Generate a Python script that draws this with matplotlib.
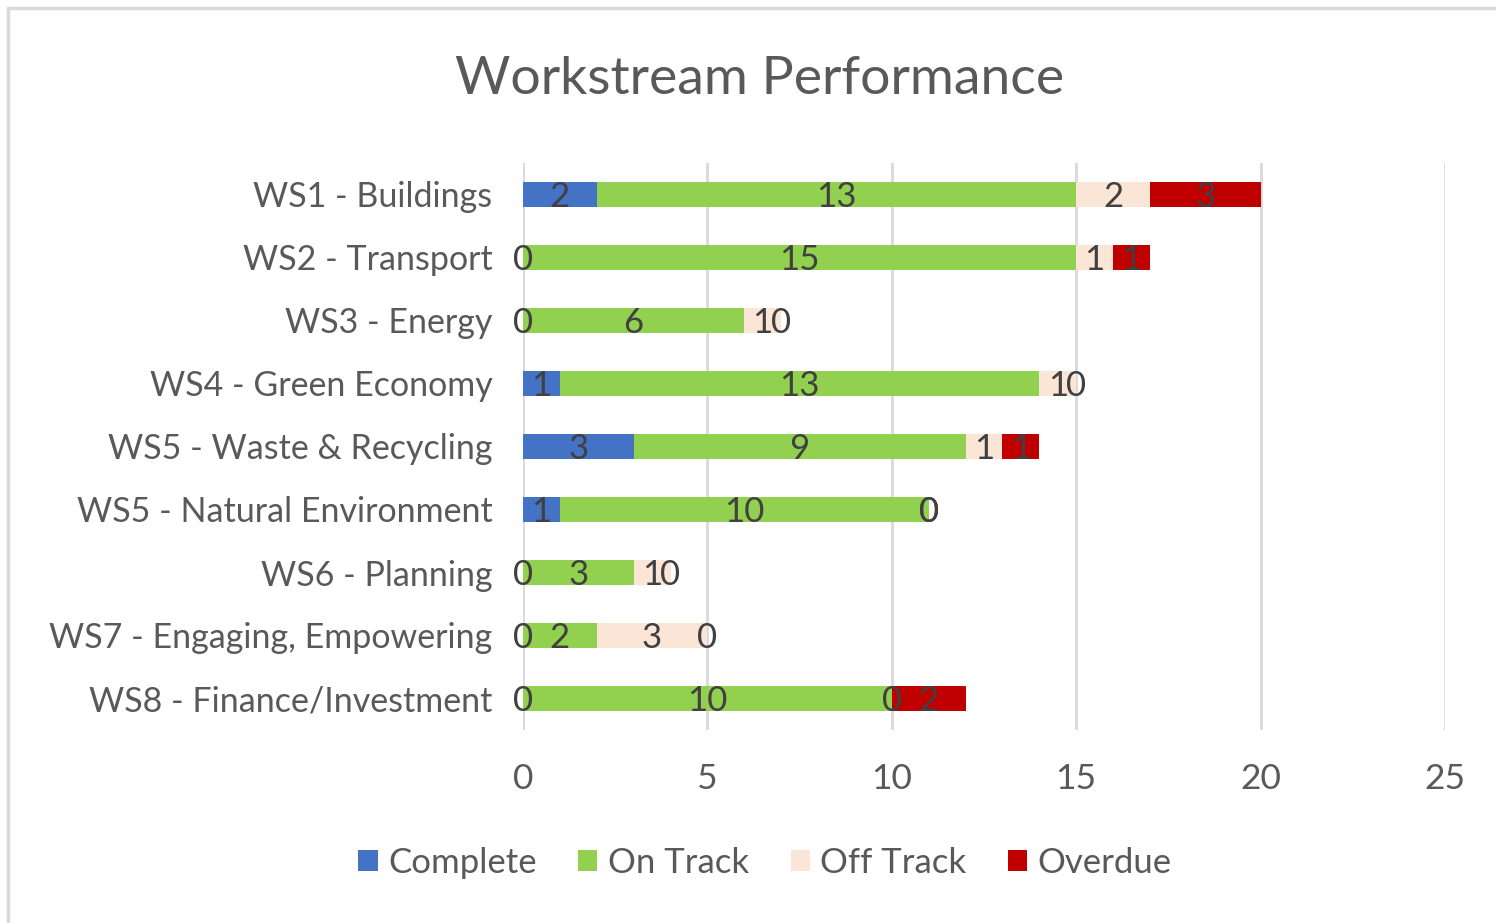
import matplotlib
matplotlib.use("Agg")
import matplotlib.pyplot as plt
from matplotlib.patches import Rectangle
import numpy as np

categories = ["WS1 - Buildings", "WS2 - Transport", "WS3 - Energy", "WS4 - Green Economy",
              "WS5 - Waste & Recycling", "WS5 - Natural Environment", "WS6 - Planning",
              "WS7 - Engaging, Empowering", "WS8 - Finance/Investment"]
series_names = ["Complete", "On Track", "Off Track", "Overdue"]
complete = [2, 0, 0, 1, 3, 1, 0, 0, 0]
on_track = [13, 15, 6, 13, 9, 10, 3, 2, 10]
off_track = [2, 1, 1, 1, 1, 0, 1, 3, 0]
overdue = [3, 1, 0, 0, 1, 0, 0, 0, 2]
colors = ["#4472C4", "#92D050", "#FBE5D6", "#C00000"]
x_ticks = [0, 5, 10, 15, 20, 25]

plt.rcParams['font.family'] = ['Lato', 'DejaVu Sans']
W, H = 1496, 923
fig = plt.figure(figsize=(W / 100, H / 100), dpi=100)
fig.patches.append(Rectangle((8 / W, -0.1), 1.2, 1.1 - 8 / H, transform=fig.transFigure,
                             fill=False, edgecolor="#D9D9D9", linewidth=2.5))

ax = fig.add_axes([523 / W, 1 - 730 / H, (1445 - 523) / W, (730 - 163) / H])
y = np.arange(len(categories))
left = np.zeros(len(categories))
txt = "#404040"
for name, vals, c in zip(series_names, [complete, on_track, off_track, overdue], colors):
    vals = np.array(vals, dtype=float)
    ax.barh(y, vals, left=left, height=0.39, color=c, label=name, zorder=2)
    for yi, (l, v) in enumerate(zip(left, vals)):
        ax.text(l + v / 2, yi + 0.04, f"{int(v)}", ha="center", va="center",
                fontsize=25, color=txt, zorder=3)
    left += vals

ax.set_xlim(0, 25)
ax.set_ylim(len(categories) - 0.5, -0.5)
ax.set_xticks(x_ticks)
ax.set_yticks(y)
ax.set_yticklabels(categories)
ax.grid(axis="x", color="#D9D9D9", linewidth=2, zorder=0)
for s in ax.spines.values():
    s.set_visible(False)
ax.tick_params(axis="both", length=0, labelcolor="#595959")
ax.tick_params(axis="y", pad=22, labelsize=24.5)
ax.tick_params(axis="x", pad=24, labelsize=25.5)

fig.text(760 / W, 1 - 79 / H, "Workstream Performance", ha="center", va="center",
         fontsize=38.5, color="#595959")

leg = ax.legend(loc="center", bbox_to_anchor=(765 / W, 1 - 863 / H), bbox_transform=fig.transFigure,
                ncol=4, frameon=False, fontsize=25, handlelength=0.55, handleheight=0.55,
                handletextpad=0.3, columnspacing=1.2)
for t in leg.get_texts():
    t.set_color("#595959")

fig.savefig("out.png", dpi=100)
